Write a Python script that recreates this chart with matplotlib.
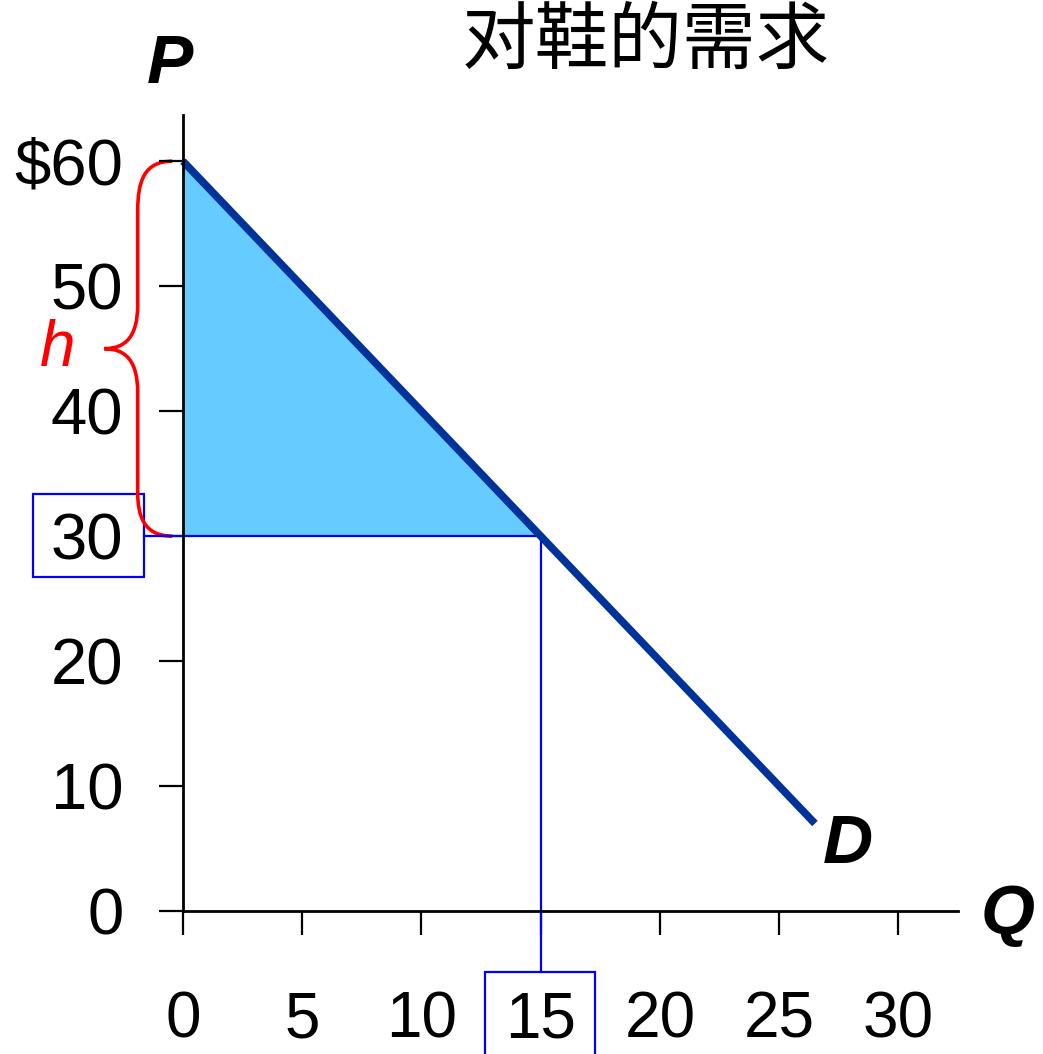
import matplotlib
matplotlib.use('Agg')
import matplotlib.pyplot as plt
from matplotlib.path import Path
from matplotlib.patches import PathPatch, Rectangle

# 字体设置
plt.rcParams['font.family'] = ['Liberation Sans', 'Noto Sans CJK SC', 'DejaVu Sans']
plt.rcParams['axes.unicode_minus'] = False

# 数据
demand_q = [0, 26.5]
demand_p = [60, 7]
q_eq = 15
p_eq = 30
p_max = 60
x_ticks = [0, 5, 10, 15, 20, 25, 30]
x_labels = ['0', '5', '10', '15', '20', '25', '30']
y_ticks = [0, 10, 20, 30, 40, 50, 60]
y_labels = ['0', '10', '20', '30', '40', '50', '$60']
title = '对鞋的需求'

fig = plt.figure(figsize=(10.43, 10.54), dpi=100)
ax = fig.add_axes([183 / 1043, 143 / 1054, 775 / 1043, 796 / 1054])
ax.set_xlim(0, 32.5)
ax.set_ylim(0, 63.7)

# 阴影三角形（消费者剩余）
ax.fill([0, q_eq, 0], [p_max, p_eq, p_eq], color='#66CCFF', lw=0, zorder=1)

# 需求曲线
ax.plot(demand_q, demand_p, color='#003399', lw=5.5, solid_capstyle='butt', zorder=4, clip_on=False)

# 蓝色参考线
ax.plot([-1.63, q_eq], [p_eq, p_eq], color='#0000FF', lw=1.6, zorder=3, clip_on=False)
ax.plot([q_eq, q_eq], [p_eq, -4.88], color='#0000FF', lw=1.6, zorder=3, clip_on=False)

# 刻度标签的方框
ax.add_patch(Rectangle((-6.28, 26.7), 4.65, 6.66, fill=False, ec='#0000FF', lw=1.6, clip_on=False))
ax.add_patch(Rectangle((12.65, -12), 4.61, 7.12, fill=False, ec='#0000FF', lw=1.6, clip_on=False))

# 红色花括号
xb, xt = -1.9, -3.3
verts = [(-0.45, p_max),
         (-1.6, p_max), (xb, 58.5), (xb, 56),
         (xb, 48.5),
         (xb, 46), (-2.4, 45), (xt, 45),
         (-2.4, 45), (xb, 44), (xb, 41.5),
         (xb, 33.5),
         (xb, 31.5), (-1.6, p_eq), (-0.45, p_eq)]
codes = [Path.MOVETO,
         Path.CURVE4, Path.CURVE4, Path.CURVE4,
         Path.LINETO,
         Path.CURVE4, Path.CURVE4, Path.CURVE4,
         Path.CURVE4, Path.CURVE4, Path.CURVE4,
         Path.LINETO,
         Path.CURVE4, Path.CURVE4, Path.CURVE4]
ax.add_patch(PathPatch(Path(verts, codes), fill=False, ec='red', lw=2.6, clip_on=False))
ax.text(-5.25, 45, 'h', color='red', fontsize=46, style='italic', ha='center', va='center')

# 坐标轴
for s in ['top', 'right']:
    ax.spines[s].set_visible(False)
for s in ['left', 'bottom']:
    ax.spines[s].set_linewidth(2)
    ax.spines[s].set_zorder(5)
ax.set_xticks(x_ticks)
ax.set_xticklabels(x_labels, fontsize=46)
ax.set_yticks(y_ticks)
ax.set_yticklabels(y_labels, fontsize=47)
ax.tick_params(axis='x', direction='out', length=17, width=1.6, pad=40)
ax.tick_params(axis='y', direction='out', length=17, width=1.6, pad=26)

# 轴标签
ax.text(-0.54, 67.7, 'P', fontsize=50, weight='bold', style='italic', ha='center', va='center', clip_on=False)
ax.text(34.6, -0.3, 'Q', fontsize=50, weight='bold', style='italic', ha='center', va='center', clip_on=False)
ax.text(27.9, 5.3, 'D', fontsize=50, weight='bold', style='italic', ha='center', va='center', clip_on=False)

# 标题
fig.text(646 / 1043, 1 - 42 / 1054, title, fontsize=53, family=['Noto Sans CJK SC', 'DejaVu Sans'],
         ha='center', va='center')

plt.savefig('out.png', dpi=100)
